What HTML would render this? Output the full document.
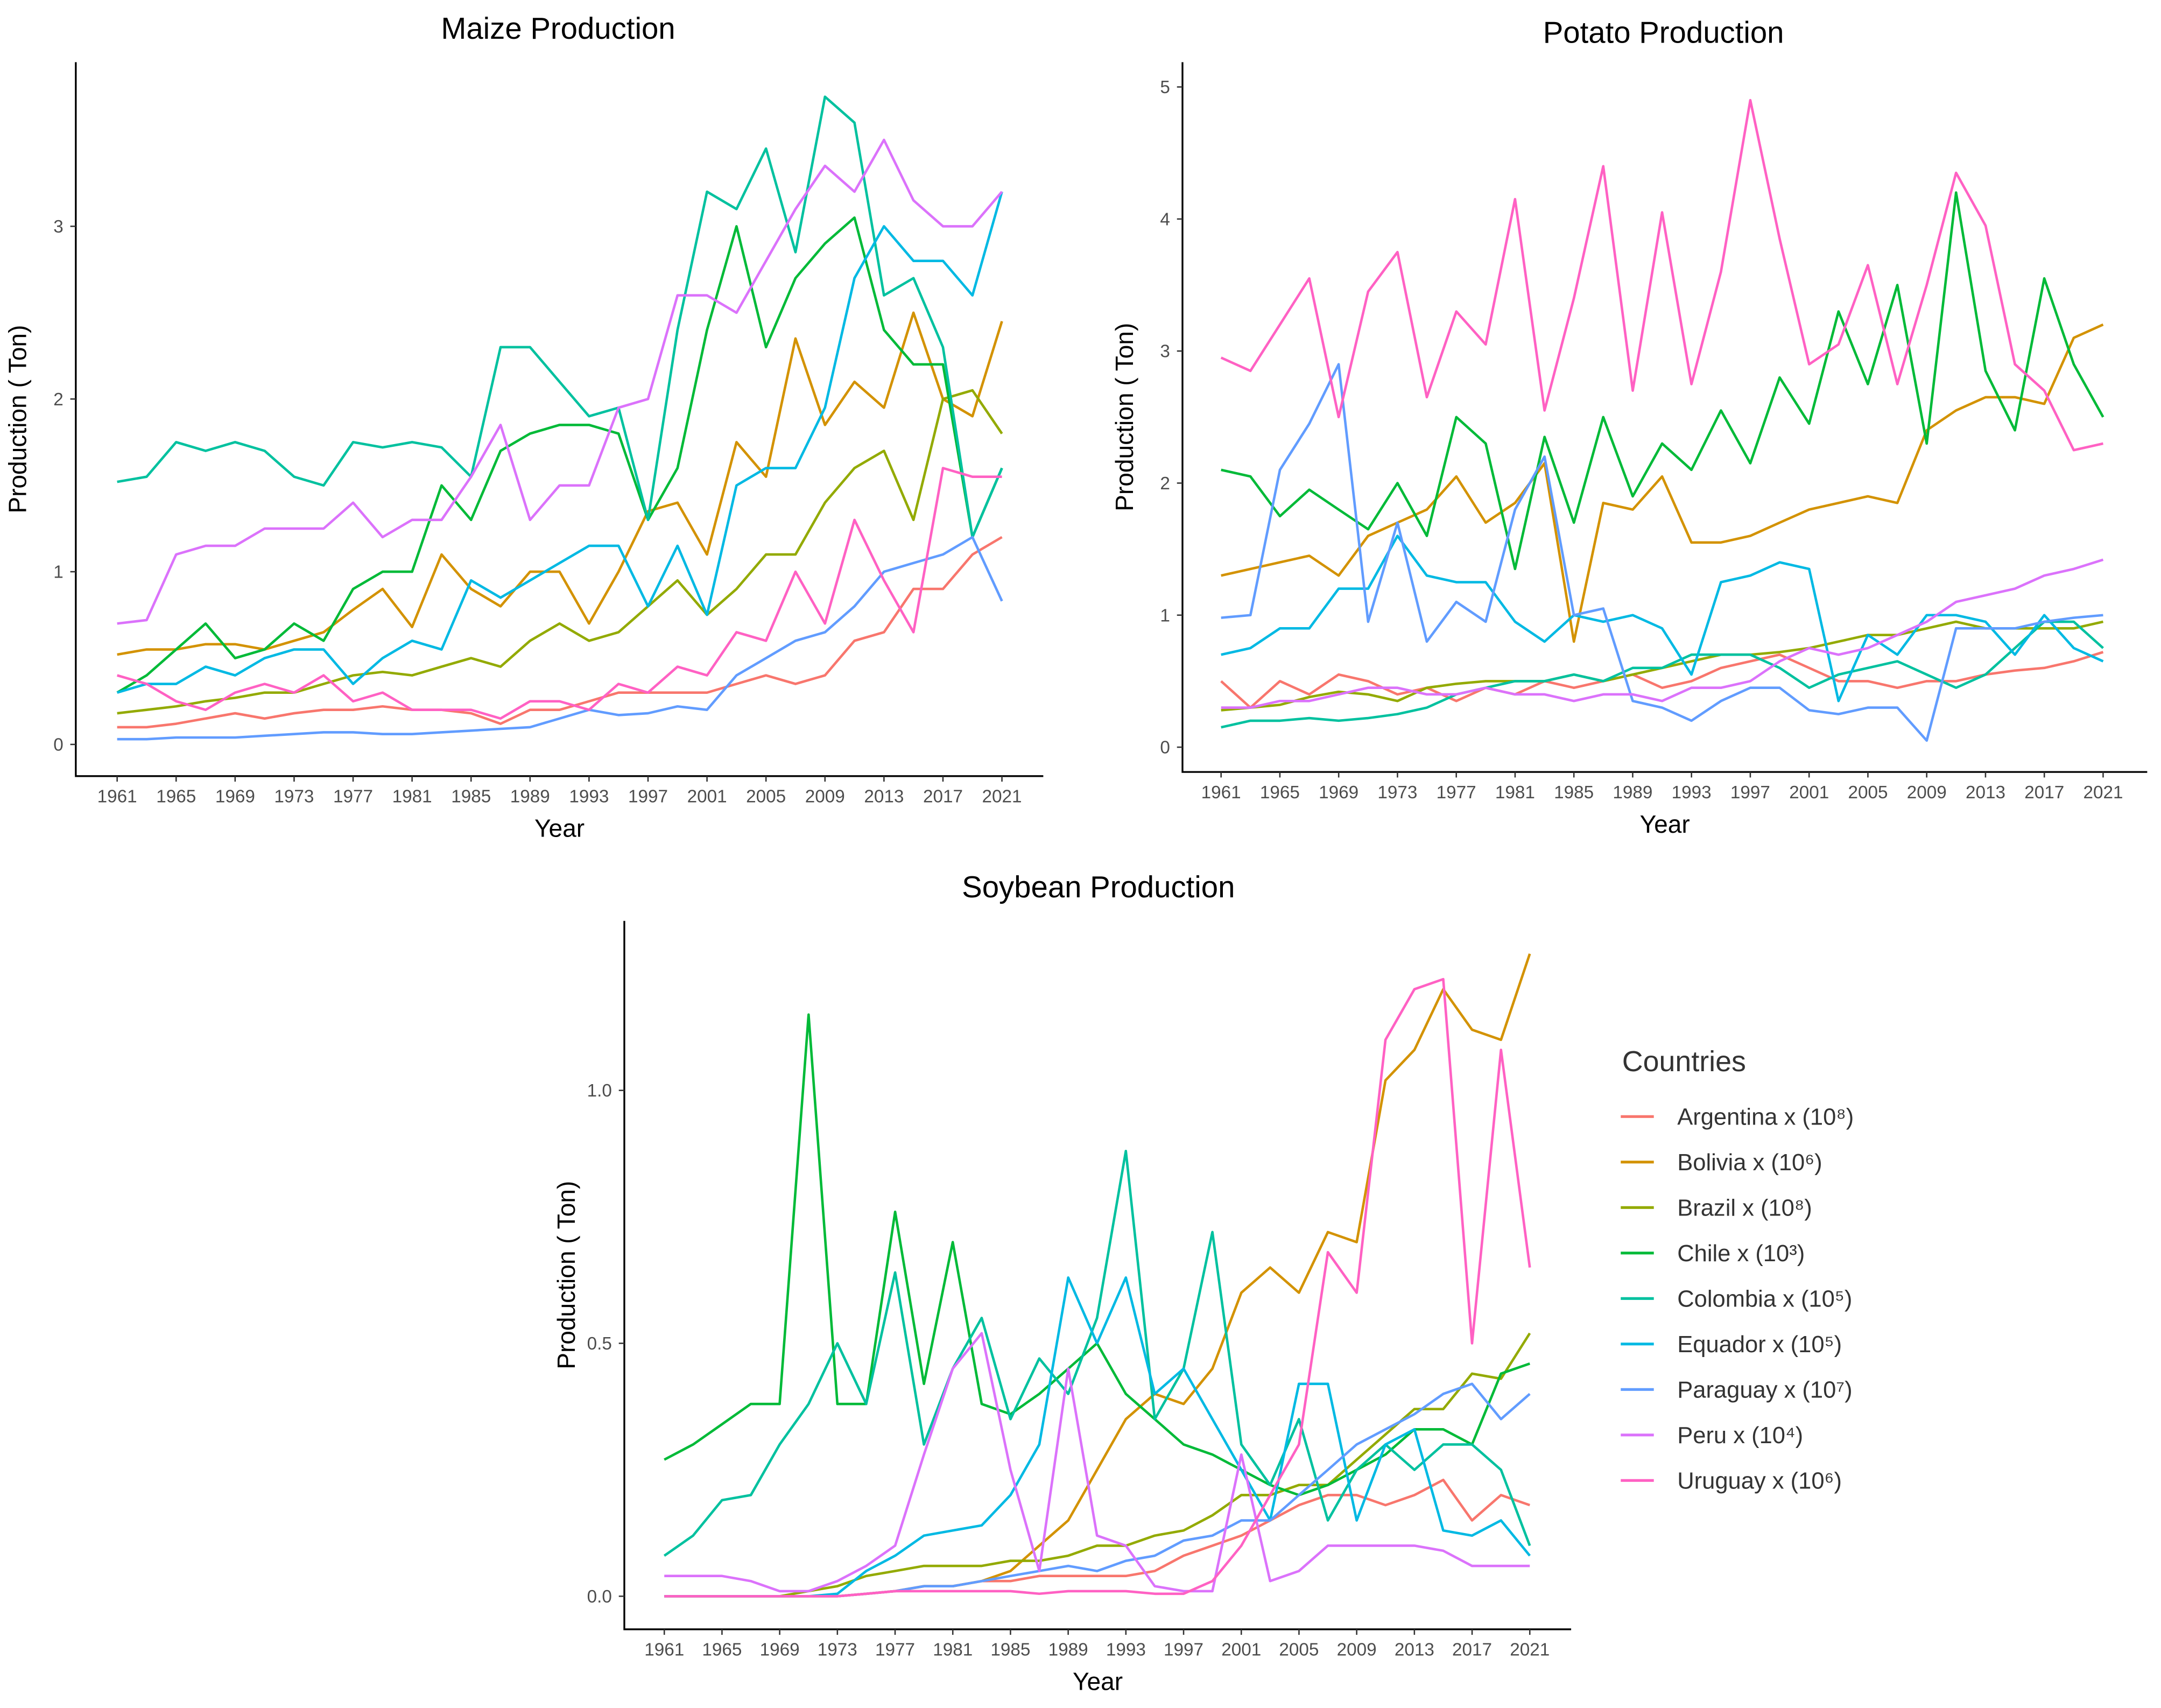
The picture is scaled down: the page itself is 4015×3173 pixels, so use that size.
<!DOCTYPE html>
<html><head><meta charset="utf-8"><style>
html,body{margin:0;padding:0;background:#fff;}
svg{display:block;font-family:"Liberation Sans",sans-serif;}
</style></head><body>
<svg id="chart" width="4015" height="3173" viewBox="0 0 1568 1239" xmlns="http://www.w3.org/2000/svg"></svg>
<script>
const years = [];
for (let y = 1961; y <= 2021; y += 2) years.push(y);
const tickYears = [1961,1965,1969,1973,1977,1981,1985,1989,1993,1997,2001,2005,2009,2013,2017,2021];
const countries = ["Argentina","Bolivia","Brazil","Chile","Colombia","Equador","Paraguay","Peru","Uruguay"];
const legendLabels = ["Argentina x (10⁸)","Bolivia x (10⁶)","Brazil x (10⁸)","Chile x (10³)","Colombia x (10⁵)","Equador x (10⁵)","Paraguay x (10⁷)","Peru x (10⁴)","Uruguay x (10⁶)"];
const colors = ["#F8766D","#D39200","#93AA00","#00BA38","#00C19F","#00B9E3","#619CFF","#DB72FB","#FF61C3"];

const maizeArgentina=[0.1,0.1,0.12,0.15,0.18,0.15,0.18,0.2,0.2,0.22,0.2,0.2,0.18,0.12,0.2,0.2,0.25,0.3,0.3,0.3,0.3,0.35,0.4,0.35,0.4,0.6,0.65,0.9,0.9,1.1,1.2];
const maizeBolivia=[0.52,0.55,0.55,0.58,0.58,0.55,0.6,0.65,0.78,0.9,0.68,1.1,0.9,0.8,1.0,1.0,0.7,1.0,1.35,1.4,1.1,1.75,1.55,2.35,1.85,2.1,1.95,2.5,2.0,1.9,2.45];
const maizeBrazil=[0.18,0.2,0.22,0.25,0.27,0.3,0.3,0.35,0.4,0.42,0.4,0.45,0.5,0.45,0.6,0.7,0.6,0.65,0.8,0.95,0.75,0.9,1.1,1.1,1.4,1.6,1.7,1.3,2.0,2.05,1.8];
const maizeChile=[0.3,0.4,0.55,0.7,0.5,0.55,0.7,0.6,0.9,1.0,1.0,1.5,1.3,1.7,1.8,1.85,1.85,1.8,1.3,1.6,2.4,3.0,2.3,2.7,2.9,3.05,2.4,2.2,2.2,1.2,1.6];
const maizeColombia=[1.52,1.55,1.75,1.7,1.75,1.7,1.55,1.5,1.75,1.72,1.75,1.72,1.55,2.3,2.3,2.1,1.9,1.95,1.3,2.4,3.2,3.1,3.45,2.85,3.75,3.6,2.6,2.7,2.3,1.2,1.6];
const maizeEquador=[0.3,0.35,0.35,0.45,0.4,0.5,0.55,0.55,0.35,0.5,0.6,0.55,0.95,0.85,0.95,1.05,1.15,1.15,0.8,1.15,0.75,1.5,1.6,1.6,1.95,2.7,3.0,2.8,2.8,2.6,3.2];
const maizeParaguay=[0.03,0.03,0.04,0.04,0.04,0.05,0.06,0.07,0.07,0.06,0.06,0.07,0.08,0.09,0.1,0.15,0.2,0.17,0.18,0.22,0.2,0.4,0.5,0.6,0.65,0.8,1.0,1.05,1.1,1.2,0.83];
const maizePeru=[0.7,0.72,1.1,1.15,1.15,1.25,1.25,1.25,1.4,1.2,1.3,1.3,1.55,1.85,1.3,1.5,1.5,1.95,2.0,2.6,2.6,2.5,2.8,3.1,3.35,3.2,3.5,3.15,3.0,3.0,3.2];
const maizeUruguay=[0.4,0.35,0.25,0.2,0.3,0.35,0.3,0.4,0.25,0.3,0.2,0.2,0.2,0.15,0.25,0.25,0.2,0.35,0.3,0.45,0.4,0.65,0.6,1.0,0.7,1.3,0.95,0.65,1.6,1.55,1.55];

const potatoArgentina=[0.5,0.3,0.5,0.4,0.55,0.5,0.4,0.45,0.35,0.45,0.4,0.5,0.45,0.5,0.55,0.45,0.5,0.6,0.65,0.7,0.6,0.5,0.5,0.45,0.5,0.5,0.55,0.58,0.6,0.65,0.72];
const potatoBolivia=[1.3,1.35,1.4,1.45,1.3,1.6,1.7,1.8,2.05,1.7,1.85,2.15,0.8,1.85,1.8,2.05,1.55,1.55,1.6,1.7,1.8,1.85,1.9,1.85,2.4,2.55,2.65,2.65,2.6,3.1,3.2];
const potatoBrazil=[0.28,0.3,0.32,0.38,0.42,0.4,0.35,0.45,0.48,0.5,0.5,0.5,0.55,0.5,0.55,0.6,0.65,0.7,0.7,0.72,0.75,0.8,0.85,0.85,0.9,0.95,0.9,0.9,0.9,0.9,0.95];
const potatoChile=[2.1,2.05,1.75,1.95,1.8,1.65,2.0,1.6,2.5,2.3,1.35,2.35,1.7,2.5,1.9,2.3,2.1,2.55,2.15,2.8,2.45,3.3,2.75,3.5,2.3,4.2,2.85,2.4,3.55,2.9,2.5];
const potatoColombia=[0.15,0.2,0.2,0.22,0.2,0.22,0.25,0.3,0.4,0.45,0.5,0.5,0.55,0.5,0.6,0.6,0.7,0.7,0.7,0.6,0.45,0.55,0.6,0.65,0.55,0.45,0.55,0.75,0.95,0.95,0.75];
const potatoEquador=[0.7,0.75,0.9,0.9,1.2,1.2,1.6,1.3,1.25,1.25,0.95,0.8,1.0,0.95,1.0,0.9,0.55,1.25,1.3,1.4,1.35,0.35,0.85,0.7,1.0,1.0,0.95,0.7,1.0,0.75,0.65];
const potatoParaguay=[0.98,1.0,2.1,2.45,2.9,0.95,1.7,0.8,1.1,0.95,1.8,2.2,1.0,1.05,0.35,0.3,0.2,0.35,0.45,0.45,0.28,0.25,0.3,0.3,0.05,0.9,0.9,0.9,0.95,0.98,1.0];
const potatoPeru=[0.3,0.3,0.35,0.35,0.4,0.45,0.45,0.4,0.4,0.45,0.4,0.4,0.35,0.4,0.4,0.35,0.45,0.45,0.5,0.65,0.75,0.7,0.75,0.85,0.95,1.1,1.15,1.2,1.3,1.35,1.42];
const potatoUruguay=[2.95,2.85,3.2,3.55,2.5,3.45,3.75,2.65,3.3,3.05,4.15,2.55,3.4,4.4,2.7,4.05,2.75,3.6,4.9,3.85,2.9,3.05,3.65,2.75,3.5,4.35,3.95,2.9,2.7,2.25,2.3];

const soyArgentina=[0,0,0,0,0,0,0,0.005,0.01,0.02,0.02,0.03,0.03,0.04,0.04,0.04,0.04,0.05,0.08,0.1,0.12,0.15,0.18,0.2,0.2,0.18,0.2,0.23,0.15,0.2,0.18];
const soyBolivia=[0,0,0,0,0,0,0,0.005,0.01,0.02,0.02,0.03,0.05,0.1,0.15,0.25,0.35,0.4,0.38,0.45,0.6,0.65,0.6,0.72,0.7,1.02,1.08,1.2,1.12,1.1,1.27];
const soyBrazil=[0,0,0,0,0,0.01,0.02,0.04,0.05,0.06,0.06,0.06,0.07,0.07,0.08,0.1,0.1,0.12,0.13,0.16,0.2,0.2,0.22,0.22,0.27,0.32,0.37,0.37,0.44,0.43,0.52];
const soyChile=[0.27,0.3,0.34,0.38,0.38,1.15,0.38,0.38,0.76,0.42,0.7,0.38,0.36,0.4,0.45,0.5,0.4,0.35,0.3,0.28,0.25,0.22,0.2,0.22,0.25,0.28,0.33,0.33,0.3,0.44,0.46];
const soyColombia=[0.08,0.12,0.19,0.2,0.3,0.38,0.5,0.38,0.64,0.3,0.45,0.55,0.35,0.47,0.4,0.55,0.88,0.35,0.45,0.72,0.3,0.22,0.35,0.15,0.25,0.3,0.25,0.3,0.3,0.25,0.1];
const soyEquador=[0,0,0,0,0,0,0.005,0.05,0.08,0.12,0.13,0.14,0.2,0.3,0.63,0.5,0.63,0.4,0.45,0.35,0.25,0.15,0.42,0.42,0.15,0.3,0.33,0.13,0.12,0.15,0.08];
const soyParaguay=[0,0,0,0,0,0,0,0.005,0.01,0.02,0.02,0.03,0.04,0.05,0.06,0.05,0.07,0.08,0.11,0.12,0.15,0.15,0.2,0.25,0.3,0.33,0.36,0.4,0.42,0.35,0.4];
const soyPeru=[0.04,0.04,0.04,0.03,0.01,0.01,0.03,0.06,0.1,0.28,0.45,0.52,0.25,0.05,0.45,0.12,0.1,0.02,0.01,0.01,0.28,0.03,0.05,0.1,0.1,0.1,0.1,0.09,0.06,0.06,0.06];
const soyUruguay=[0,0,0,0,0,0,0,0.005,0.01,0.01,0.01,0.01,0.01,0.005,0.01,0.01,0.01,0.005,0.005,0.03,0.1,0.2,0.3,0.68,0.6,1.1,1.2,1.22,0.5,1.08,0.65];

const maizeTicks=[0,1,2,3];
const potatoTicks=[0,1,2,3,4,5];
const soyTicks=[0,0.5,1.0];
const soyTickLabels=["0.0","0.5","1.0"];

const NS="http://www.w3.org/2000/svg";
const svg=document.getElementById("chart");
function mk(tag,attrs,parent){const e=document.createElementNS(NS,tag);for(const k in attrs)e.setAttribute(k,attrs[k]);(parent||svg).appendChild(e);return e;}

function panel(cfg){
  const g=mk("g",{});
  
  
  const xs=v=>cfg.x0+(v-1961)/60*(cfg.x1-cfg.x0);
  const ys=v=>cfg.y0-v*cfg.ppu;
  const t=mk("text",{x:cfg.tx,y:cfg.ty,"font-size":22,"text-anchor":"middle",fill:"#000"},g);
  t.textContent=cfg.title;
  
  
  const ax=mk("path",{d:`M${cfg.ax} ${cfg.atop}V${cfg.ab}H${cfg.ar}`,stroke:"#000","stroke-width":1.3,fill:"none"},g);
  
  
  cfg.ticks.forEach((v,i)=>{
    mk("line",{x1:cfg.ax-4,x2:cfg.ax,y1:ys(v),y2:ys(v),stroke:"#333"},g);
    const l=mk("text",{x:cfg.ax-9,y:ys(v)+4.5,"font-size":13,"text-anchor":"end",fill:"#4d4d4d"},g);
    l.textContent=cfg.labels?cfg.labels[i]:String(v);
    
    
  });
  tickYears.forEach(yr=>{
    mk("line",{x1:xs(yr),x2:xs(yr),y1:cfg.ab,y2:cfg.ab+4,stroke:"#333"},g);
    const l=mk("text",{x:xs(yr),y:cfg.ab+19,"font-size":13,"text-anchor":"middle",fill:"#4d4d4d"},g);
    l.textContent=yr;
    
    
  });
  const xt=mk("text",{x:(cfg.ax+cfg.ar)/2,y:cfg.ab+44,"font-size":18,"text-anchor":"middle",fill:"#000"},g);
  xt.textContent="Year";
  
  
  const cy=(cfg.atop+cfg.ab)/2;
  const yt=mk("text",{x:cfg.ax-36,y:cy,"font-size":18,"text-anchor":"middle",fill:"#000",transform:`rotate(-90 ${cfg.ax-36} ${cy})`},g);
  yt.textContent="Production ( Ton)";
  
  
  cfg.series.forEach((s,i)=>{
    const d=s.map((v,j)=>(j?"L":"M")+xs(years[j]).toFixed(1)+" "+ys(v).toFixed(1)).join("");
    const p=mk("path",{d:d,stroke:colors[i],"stroke-width":1.8,fill:"none","stroke-linejoin":"round"},g);
    
    
  });
}
panel({key:"maize",title:"Maize Production",tx:405,ty:28,x0:85,x1:727,y0:540,ppu:125.3,ax:55,atop:45,ab:563,ar:757,ticks:maizeTicks,
  series:[maizeArgentina,maizeBolivia,maizeBrazil,maizeChile,maizeColombia,maizeEquador,maizeParaguay,maizePeru,maizeUruguay]});
panel({key:"potato",title:"Potato Production",tx:1207,ty:31,x0:886,x1:1526,y0:542,ppu:95.8,ax:858,atop:45,ab:560,ar:1558,ticks:potatoTicks,
  series:[potatoArgentina,potatoBolivia,potatoBrazil,potatoChile,potatoColombia,potatoEquador,potatoParaguay,potatoPeru,potatoUruguay]});
panel({key:"soybean",title:"Soybean Production",tx:797,ty:651,x0:482,x1:1110,y0:1158,ppu:367,ax:453,atop:668,ab:1182,ar:1140,ticks:soyTicks,labels:soyTickLabels,
  series:[soyArgentina,soyBolivia,soyBrazil,soyChile,soyColombia,soyEquador,soyParaguay,soyPeru,soyUruguay]});

const lg=mk("g",{});


const lt=mk("text",{x:1177,y:777,"font-size":21,fill:"#333"},lg);
lt.textContent="Countries";


legendLabels.forEach((lab,i)=>{
  const y=810+i*33;
  const e=mk("g",{},lg);
  
  
  mk("line",{x1:1176,x2:1200,y1:y,y2:y,stroke:colors[i],"stroke-width":2},e);
  const t=mk("text",{x:1217,y:y+6,"font-size":17,fill:"#333"},e);
  t.textContent=lab;
});
</script>
</body></html>
